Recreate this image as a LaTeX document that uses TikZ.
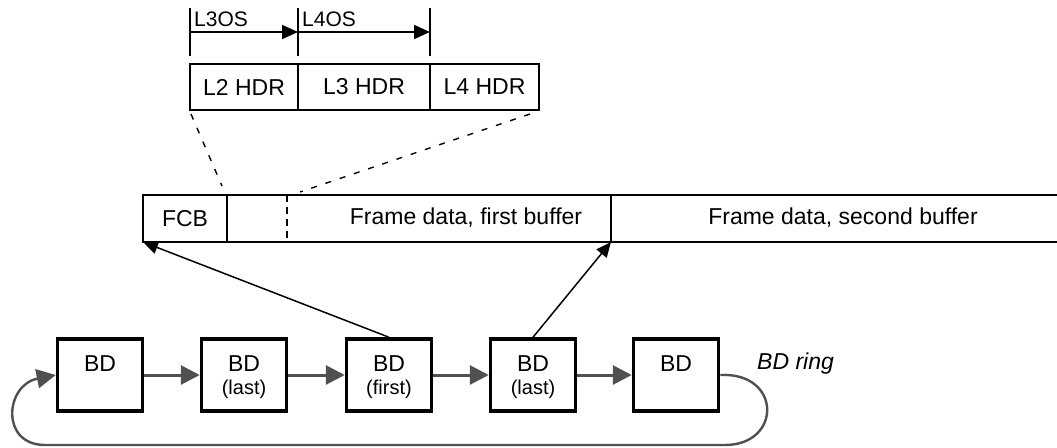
\documentclass[tikz,border=0pt]{standalone}
\usepackage{fontspec}
\setmainfont{Liberation Sans}
\usetikzlibrary{arrows.meta}
\definecolor{arrgray}{HTML}{505050}
\begin{document}
\begin{tikzpicture}[x=1pt,y=-1pt,
  hcell/.style={draw,line width=2.4pt,inner sep=0pt,minimum height=46pt,font=\fontsize{23}{27}\selectfont},
  fcell/.style={draw,line width=2.8pt,inner sep=0pt,outer sep=0pt,minimum height=47pt,font=\fontsize{23}{27}\selectfont},
  txt/.style={inner sep=0pt,font=\fontsize{23}{27}\selectfont},
  small/.style={inner sep=0pt,font=\fontsize{20}{24}\selectfont},
  ostxt/.style={inner sep=0pt,anchor=west,font=\fontsize{21}{25}\selectfont},
  bdbox/.style={draw,line width=3.5pt,inner sep=0pt,minimum width=85pt,minimum height=72pt},
  tick/.style={line width=2pt},
  barrow/.style={line width=2pt,-{Triangle[length=16pt,width=14pt]}},
  thinarrow/.style={line width=1.5pt,-{Triangle[length=15pt,width=13pt]}},
  garrow/.style={draw=arrgray,line width=3pt,-{Triangle[length=19pt,width=19pt]},arrgray},
  zoomline/.style={line width=1.4pt,dash pattern=on 6pt off 9pt},
]
\useasboundingbox (0,0) rectangle (1057,447);

% offset markers
\coordinate (t1a) at (190,8);  \coordinate (t1b) at (190,56);
\coordinate (t2a) at (298,8);  \coordinate (t2b) at (298,56);
\coordinate (t3a) at (430,8);  \coordinate (t3b) at (430,56);
\coordinate (a1) at (190,32); \coordinate (a2) at (298,32); \coordinate (a3) at (430,32);
\draw[tick] (t1a) -- (t1b);
\draw[tick] (t2a) -- (t2b);
\draw[tick] (t3a) -- (t3b);
\draw[barrow] (a1) -- (a2);
\draw[barrow] (a2) -- (a3);
\node[ostxt] (l3os) at (194,19) {L3OS};
\node[ostxt] (l4os) at (302,19) {L4OS};

% header cells
\node[hcell,minimum width=108pt] (l2) at (244,87) {L2 HDR};
\node[hcell,minimum width=132pt] (l3) at (364,87) {L3 HDR};
\node[hcell,minimum width=109pt] (l4) at (484.5,87) {L4 HDR};

% frame
\node[fcell,minimum width=84pt] (fcb) at (185,218.5) {FCB};
\node[fcell,minimum width=384pt] (fb1) at (419,218.5) {};
\node[txt] (fb1t) at (466,218) {Frame data, first buffer};
\coordinate (fend) at (1062,218.5);
\draw[line width=2.8pt] (fb1.north east) -- (fb1.north east -| fend);
\draw[line width=2.8pt] (fb1.south east) -- (fb1.south east -| fend);
\node[txt] (fb2t) at (843,218) {Frame data, second buffer};
\coordinate (dv1) at (287,195); \coordinate (dv2) at (287,242);
\draw[line width=2.2pt,dash pattern=on 7pt off 5pt] (dv1) -- (dv2);

% zoom lines
\coordinate (z1a) at (191,114); \coordinate (z1b) at (222,186);
\coordinate (z2a) at (530,114); \coordinate (z2b) at (300,192);
\draw[zoomline] (z1a) -- (z1b);
\draw[zoomline] (z2a) -- (z2b);

% BD ring
\node[bdbox] (b1) at (100,375) {};
\node[bdbox] (b2) at (244,375) {};
\node[bdbox] (b3) at (389,375) {};
\node[bdbox] (b4) at (533,375) {};
\node[bdbox] (b5) at (676,375) {};
\node[txt] (b1t) at (100,364) {BD};
\node[txt] (b2t) at (244,364) {BD};
\node[small] (b2s) at (244,389) {(last)};
\node[txt] (b3t) at (389,364) {BD};
\node[small] (b3s) at (389,389) {(first)};
\node[txt] (b4t) at (533,364) {BD};
\node[small] (b4s) at (533,389) {(last)};
\node[txt] (b5t) at (676,364) {BD};
\node[txt,anchor=west,font=\fontsize{23}{27}\selectfont\itshape] (ring) at (757,364) {BD ring};

\draw[garrow] (b1.east) -- (b2.west);
\draw[garrow] (b2.east) -- (b3.west);
\draw[garrow] (b3.east) -- (b4.west);
\draw[garrow] (b4.east) -- (b5.west);
\draw[garrow,line width=2.4pt] (b5.east) .. controls (782,372) and (782,445) .. (725,445) -- (45,445) .. controls (0,445) and (5,385) .. (b1.west);

% pointers
\draw[thinarrow] (b3.north) -- (fcb.south west);
\draw[thinarrow] (b4.north) -- (fb1.south east);
\end{tikzpicture}
\end{document}
